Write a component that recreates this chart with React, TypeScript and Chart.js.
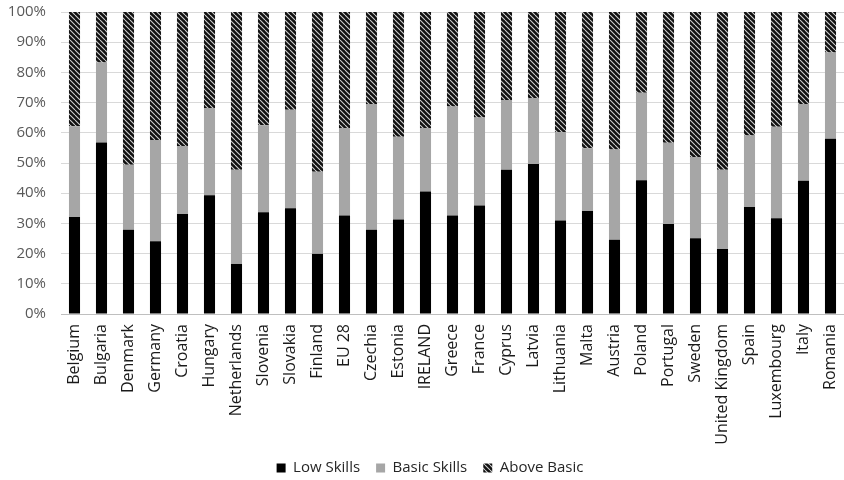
import React, { useEffect, useRef } from "react";
import { Chart, registerables } from "chart.js";

Chart.register(...registerables);

const categories = [
  "Belgium", "Bulgaria", "Denmark", "Germany", "Croatia", "Hungary", "Netherlands",
  "Slovenia", "Slovakia", "Finland", "EU 28", "Czechia", "Estonia", "IRELAND",
  "Greece", "France", "Cyprus", "Latvia", "Lithuania", "Malta", "Austria", "Poland",
  "Portugal", "Sweden", "United Kingdom", "Spain", "Luxembourg", "Italy", "Romania",
];

const lowSkills = [
  32.1, 56.8, 27.9, 24.1, 33.1, 39.3, 16.6, 33.7, 35.0, 19.9, 32.6, 27.9, 31.3, 40.6,
  32.6, 35.9, 47.8, 49.7, 31.0, 34.1, 24.6, 44.3, 29.8, 25.1, 21.5, 35.4, 31.7, 44.1, 58.0,
];

const basicSkills = [
  30.1, 26.5, 21.5, 33.5, 22.5, 28.9, 31.2, 28.8, 32.6, 27.2, 29.0, 41.6, 27.4, 21.0,
  36.1, 29.2, 23.1, 21.8, 29.2, 20.8, 29.9, 29.0, 26.9, 26.9, 26.3, 23.7, 30.3, 25.4, 28.6,
];

const aboveBasic = [
  37.8, 16.7, 50.6, 42.4, 44.4, 31.8, 52.2, 37.5, 32.4, 52.9, 38.4, 30.5, 41.3, 38.4,
  31.3, 34.9, 29.1, 28.5, 39.8, 45.1, 45.5, 26.7, 43.3, 48.0, 52.2, 40.9, 38.0, 30.5, 13.4,
];

const yTicks = [0, 10, 20, 30, 40, 50, 60, 70, 80, 90, 100];

function makePattern(): CanvasPattern | string {
  const c = document.createElement("canvas");
  const s = 5;
  c.width = s;
  c.height = s;
  const ctx = c.getContext("2d");
  if (!ctx) return "#222";
  ctx.fillStyle = "#111111";
  ctx.fillRect(0, 0, s, s);
  ctx.strokeStyle = "#d0d0d0";
  ctx.lineWidth = 1.1;
  for (let k = -1; k <= 1; k++) {
    ctx.beginPath();
    ctx.moveTo(k * s, 0);
    ctx.lineTo(k * s + s, s);
    ctx.stroke();
  }
  const p = ctx.createPattern(c, "repeat");
  return p || "#222";
}

const unclipLabels = {
  id: "unclipLabels",
  afterLayout(chart: any) {
    const x = chart.scales.x;
    const y = chart.scales.y;
    if (x) x.bottom = chart.height;
    if (y) y.left = 0;
  },
};

export default function App() {
  const ref = useRef<HTMLCanvasElement>(null);

  useEffect(() => {
    document.body.style.margin = "0";
    if (!ref.current) return;
    const pattern = makePattern();
    const font = "'Open Sans', sans-serif";
    const chart = new Chart(ref.current, {
      type: "bar",
      data: {
        labels: categories,
        datasets: [
          { label: "Low Skills", data: lowSkills, backgroundColor: "#000000", borderWidth: 0 },
          { label: "Basic Skills", data: basicSkills, backgroundColor: "#a6a6a6", borderWidth: 0 },
          { label: "Above Basic", data: aboveBasic, backgroundColor: pattern as any, borderWidth: 0 },
        ],
      },
      plugins: [unclipLabels],
      options: {
        animation: false,
        responsive: false,
        maintainAspectRatio: false,
        layout: { padding: { top: 12, right: 0, left: 16, bottom: -5.5 } },
        datasets: { bar: { barPercentage: 0.41, categoryPercentage: 1 } },
        plugins: {
          legend: {
            position: "bottom",
            labels: {
              boxWidth: 9,
              boxHeight: 9,
              padding: 16,
              color: "#262626",
              font: { family: font, size: 15 },
            },
          },
          tooltip: { enabled: false },
        },
        scales: {
          x: {
            stacked: true,
            grid: { display: false, drawTicks: false },
            border: { color: "#bfbfbf" },
            afterFit: (axis: any) => {
              axis.paddingLeft = 0;
              axis.paddingRight = 0;
              axis.height = 130.5;
            },
            ticks: {
              minRotation: 90,
              maxRotation: 90,
              autoSkip: false,
              padding: 10,
              color: "#1a1a1a",
              font: { family: font, size: 16 },
            },
          },
          y: {
            stacked: true,
            min: 0,
            max: 100,
            afterBuildTicks: (axis: any) => {
              axis.ticks = yTicks.map((v) => ({ value: v }));
            },
            afterFit: (axis: any) => {
              axis.width = 45;
              axis.paddingTop = 0;
              axis.paddingBottom = 0;
            },
            grid: { color: "#d9d9d9", drawTicks: false },
            border: { display: false },
            ticks: {
              padding: 15,
              color: "#595959",
              font: { family: font, size: 15 },
              callback: (v: any) => v + "%",
            },
          },
        },
      },
    });
    return () => chart.destroy();
  }, []);

  return (
    <div style={{ width: 844, height: 480 }}>
      <canvas ref={ref} width={844} height={480} style={{ width: 844, height: 480 }} />
    </div>
  );
}
